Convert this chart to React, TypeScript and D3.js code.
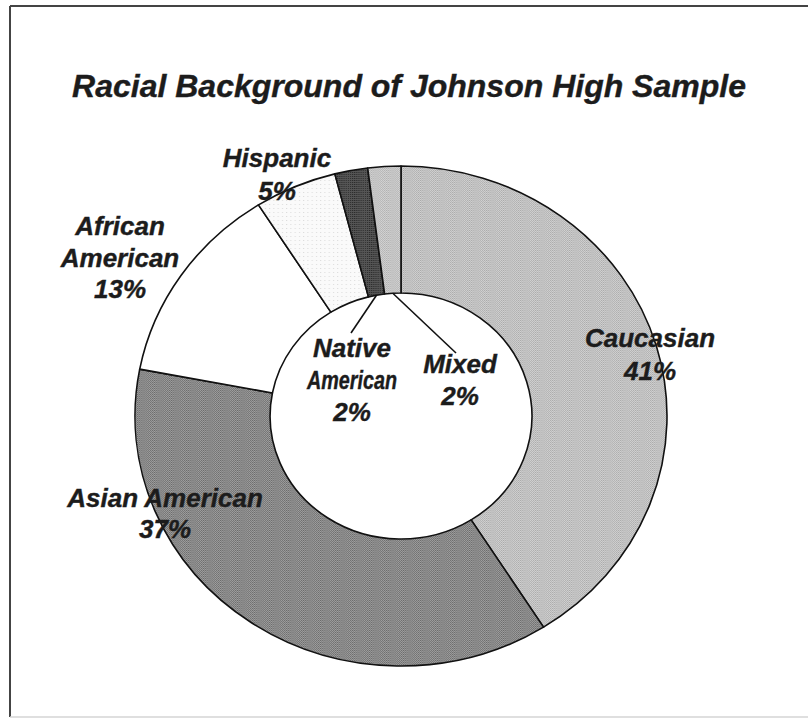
import React from "react";
import * as d3 from "d3";

// Sample composition, clockwise from 12 o'clock
const categories = ["Caucasian", "Asian American", "African American", "Hispanic", "Native American", "Mixed"];
const percents = [41, 37, 13, 5, 2, 2];
const fills = ["url(#dCauc)", "url(#dAsian)", "#ffffff", "url(#dHisp)", "url(#dNative)", "url(#dMixed)"];

// Label text lines per slice
const labelLines: string[][] = [
  ["Caucasian", "41%"],
  ["Asian American", "37%"],
  ["African", "American", "13%"],
  ["Hispanic", "5%"],
  ["Native", "American", "2%"],
  ["Mixed", "2%"],
];

const W = 808;
const H = 719;
const cx = 401;
const cy = 416;
const rOuter = 250;
const rInner = 123;
const xStretch = 1.064;

export default function App() {
  const pie = d3
    .pie<number>()
    .value((d) => d)
    .sort(null)
    .startAngle(0)
    .endAngle(2 * Math.PI);
  const arcs = pie(percents);
  const arc = d3.arc<d3.PieArcDatum<number>>().innerRadius(rInner).outerRadius(rOuter);

  // point on the stretched ellipse for an angle (clockwise from top) and radius
  const pt = (a: number, r: number): [number, number] => [
    cx + Math.sin(a) * r * xStretch,
    cy - Math.cos(a) * r,
  ];

  // label anchors (text centre, first baseline)
  const labelPos: [number, number][] = [
    [650, 347],
    [165, 507],
    [120, 235],
    [277, 167],
    [352, 357],
    [460, 373],
  ];
  const lineGap = [33, 31, 31.5, 33, 32, 32];

  // leader lines for the two thin slices
  const nativeMid = (arcs[4].startAngle + arcs[4].endAngle) / 2;
  const mixedMid = (arcs[5].startAngle + arcs[5].endAngle) / 2;
  const leaders: { from: [number, number]; to: [number, number] }[] = [
    { from: pt(nativeMid, rInner), to: [351, 333] },
    { from: pt(mixedMid, rInner), to: [456, 353] },
  ];

  const font = "'Liberation Sans', Arial, Helvetica, sans-serif";
  const ink = "#1c1c1c";

  return (
    <div style={{ position: "fixed", left: 0, top: 0, width: W, height: H, background: "#fff" }}>
      <svg width={W} height={H} viewBox={`0 0 ${W} ${H}`}>
        <defs>
          <pattern id="dCauc" width="2" height="2" patternUnits="userSpaceOnUse">
            <rect width="2" height="2" fill="#d2d2d2" />
            <rect width="1" height="1" fill="#aaaaaa" />
            <rect x="1" y="1" width="1" height="1" fill="#b4b4b4" />
          </pattern>
          <pattern id="dMixed" width="2" height="2" patternUnits="userSpaceOnUse">
            <rect width="2" height="2" fill="#d4d4d4" />
            <rect width="1" height="1" fill="#b0b0b0" />
            <rect x="1" y="1" width="1" height="1" fill="#b8b8b8" />
          </pattern>
          <pattern id="dAsian" width="2" height="2" patternUnits="userSpaceOnUse">
            <rect width="2" height="2" fill="#a0a0a0" />
            <rect width="1" height="1" fill="#6a6a6a" />
            <rect x="1" y="1" width="1" height="1" fill="#767676" />
          </pattern>
          <pattern id="dNative" width="2" height="2" patternUnits="userSpaceOnUse">
            <rect width="2" height="2" fill="#555555" />
            <rect width="1" height="1" fill="#2a2a2a" />
          </pattern>
          <pattern id="dHisp" width="4" height="4" patternUnits="userSpaceOnUse">
            <rect width="4" height="4" fill="#fafafa" />
            <rect width="1" height="1" fill="#dcdcdc" />
          </pattern>
        </defs>

        {/* chart frame */}
        <line x1={10} y1={6} x2={W} y2={6} stroke="#444" strokeWidth={2} />
        <line x1={10} y1={6} x2={10} y2={717} stroke="#444" strokeWidth={2} />
        <line x1={10} y1={717} x2={W} y2={717} stroke="#d4d4d4" strokeWidth={1.5} />

        <text
          x={409}
          y={97}
          textAnchor="middle"
          fontFamily={font}
          fontWeight="bold"
          fontStyle="italic"
          fontSize={32}
          fill={ink}
          stroke={ink}
          strokeWidth={0.4}
        >
          Racial Background of Johnson High Sample
        </text>

        {/* ring slices */}
        <g transform={`translate(${cx},${cy}) scale(${xStretch},1)`}>
          {arcs.map((a, i) => (
            <path
              key={categories[i]}
              d={arc(a) || ""}
              fill={fills[i]}
              stroke="#111"
              strokeWidth={1.6}
              vectorEffect="non-scaling-stroke"
              strokeLinejoin="round"
            />
          ))}
        </g>

        {leaders.map((l, i) => (
          <line
            key={i}
            x1={l.from[0]}
            y1={l.from[1]}
            x2={l.to[0]}
            y2={l.to[1]}
            stroke="#111"
            strokeWidth={1.6}
          />
        ))}

        {/* slice labels */}
        {labelLines.map((lines, i) => (
          <text
            key={categories[i]}
            textAnchor="middle"
            fontFamily={font}
            fontWeight="bold"
            fontStyle="italic"
            fontSize={26}
            fill={ink}
            stroke={ink}
            strokeWidth={0.4}
          >
            {lines.map((t, j) => {
              const condensed = i === 4 && j === 1;
              return (
                <tspan
                  key={j}
                  x={labelPos[i][0]}
                  y={labelPos[i][1] + j * lineGap[i]}
                  {...(condensed ? { textLength: 90, lengthAdjust: "spacingAndGlyphs" } : {})}
                >
                  {t}
                </tspan>
              );
            })}
          </text>
        ))}
      </svg>
    </div>
  );
}
